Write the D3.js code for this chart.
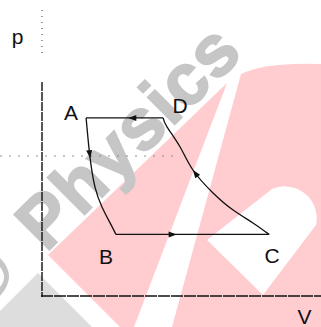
<!DOCTYPE html>
<html>
<head>
<meta charset="utf-8">
<script src="https://cdn.jsdelivr.net/npm/d3@7"></script>
<style>
  html, body { margin: 0; padding: 0; background: #fff; }
  svg { display: block; }
  text { font-family: "Liberation Sans", Arial, sans-serif; }
</style>
</head>
<body>
<script>
// state points (V, p)
const stateNames = ["A", "B", "C", "D"];
const stateV = [1.58, 2.65, 8.14, 4.34];
const stateP = [6.36, 2.2, 2.2, 6.36];

// curved process A -> B
const curveAB_V = [1.58, 1.61, 1.72, 1.90, 2.15, 2.44, 2.65];
const curveAB_P = [6.36, 6.04, 4.96, 3.89, 3.18, 2.61, 2.2];

// curved process C -> D
const curveCD_V = [8.14, 7.56, 6.85, 6.13, 5.41, 4.95, 4.48, 4.34];
const curveCD_P = [2.2, 2.61, 3.07, 3.68, 4.5, 5.32, 6.04, 6.36];

// where the arrow heads sit along each process (fraction of its length)
const arrowAt = { DA: 0.4, AB: 0.3, BC: 0.37, CD: 0.6 };

const guideP = 5.0;     // dotted guide line
const guideVEnd = 4.9;

document.addEventListener("DOMContentLoaded", function () {

const W = 321, H = 327;
const svg = d3.select("body").append("svg")
    .attr("width", W)
    .attr("height", H);

const x = d3.scaleLinear().domain([0, 10]).range([42, 321]);
const y = d3.scaleLinear().domain([0, 10]).range([296, 16]);

// --- watermark behind the chart ---
const wm = svg.append("g");
wm.append("path")
    .attr("d", "M227,83 L48,255 L120,327 L134,327 Z")
    .attr("fill", "#ffccd0");
wm.append("path")
    .attr("d", "M241,74 Q266,62 321,64 L321,327 L172,327 Z")
    .attr("fill", "#ffccd0");
wm.append("path")
    .attr("d", "M207,240 L272,189 A32,32 0 0 1 316,225 L263,295 Z")
    .attr("fill", "#fff");
wm.append("path")
    .attr("d", "M38,273 L0,311 L0,327 L92,327 Z")
    .attr("fill", "#dddddd");
wm.append("path")
    .attr("d", "M0,258 Q18,276 0,296 L0,287 Q8,277 0,267 Z")
    .attr("fill", "#c6c6c6");
wm.append("text")
    .attr("transform", "translate(46,253) rotate(-45)")
    .attr("font-size", 72)
    .attr("font-weight", "bold")
    .attr("fill", "#c6c6c6")
    .attr("stroke", "#c6c6c6")
    .attr("stroke-width", 2)
    .attr("textLength", 280)
    .attr("lengthAdjust", "spacing")
    .text("Physics");

// --- axes (scanned look: broken strokes) ---
svg.append("line")
    .attr("x1", x(0)).attr("x2", x(0))
    .attr("y1", 10).attr("y2", 56)
    .attr("stroke", "#333").attr("stroke-width", 1)
    .attr("stroke-dasharray", "1,5");
svg.append("line")
    .attr("x1", x(0)).attr("x2", x(0))
    .attr("y1", 82).attr("y2", y(0) + 1)
    .attr("stroke", "#111").attr("stroke-width", 1.4)
    .attr("stroke-dasharray", "9,1");
svg.append("line")
    .attr("x1", x(0) - 1).attr("x2", W)
    .attr("y1", y(0)).attr("y2", y(0))
    .attr("stroke", "#111").attr("stroke-width", 1.6)
    .attr("stroke-dasharray", "12,1");

svg.append("line")
    .attr("x1", 0).attr("x2", x(guideVEnd))
    .attr("y1", y(guideP)).attr("y2", y(guideP))
    .attr("stroke", "#777").attr("stroke-width", 0.8)
    .attr("stroke-dasharray", "2,7");

// --- the cycle ---
const line = d3.line().x(d => x(d[0])).y(d => y(d[1]));
const smooth = d3.line().x(d => x(d[0])).y(d => y(d[1])).curve(d3.curveNatural);

const pt = name => { const i = stateNames.indexOf(name); return [stateV[i], stateP[i]]; };

const processes = [
  { id: "DA", d: line([pt("D"), pt("A")]) },
  { id: "AB", d: smooth(curveAB_V.map((v, i) => [v, curveAB_P[i]])) },
  { id: "BC", d: line([pt("B"), pt("C")]) },
  { id: "CD", d: smooth(curveCD_V.map((v, i) => [v, curveCD_P[i]])) }
];

const cycle = svg.append("g");
processes.forEach(p => {
  const path = cycle.append("path")
      .attr("d", p.d)
      .attr("fill", "none")
      .attr("stroke", "#111")
      .attr("stroke-width", 1.3);
  const node = path.node();
  const len = node.getTotalLength();
  const s = len * arrowAt[p.id];
  const a = node.getPointAtLength(s);
  const b = node.getPointAtLength(Math.min(len, s + 1));
  const ang = Math.atan2(b.y - a.y, b.x - a.x) * 180 / Math.PI;
  cycle.append("path")
      .attr("d", "M4,0 L-4,-3 L-4,3 Z")
      .attr("fill", "#111")
      .attr("transform", `translate(${a.x},${a.y}) rotate(${ang})`);
});

// --- labels ---
const labelDx = { A: -15, B: -10, C: 3, D: 17 };
const labelDy = { A: 2, B: 30, C: 29, D: -5 };
svg.append("g").selectAll("text")
  .data(stateNames)
  .join("text")
    .attr("x", d => x(pt(d)[0]) + labelDx[d])
    .attr("y", d => y(pt(d)[1]) + labelDy[d])
    .attr("text-anchor", "middle")
    .attr("font-size", 21)
    .attr("fill", "#111")
    .text(d => d);

svg.append("text")
    .attr("x", 17.5).attr("y", 44)
    .attr("text-anchor", "middle")
    .attr("font-size", 21)
    .attr("fill", "#111")
    .text("p");
svg.append("text")
    .attr("x", 304.5).attr("y", 324)
    .attr("text-anchor", "middle")
    .attr("font-size", 21)
    .attr("fill", "#111")
    .text("V");
});
</script>
</body>
</html>
